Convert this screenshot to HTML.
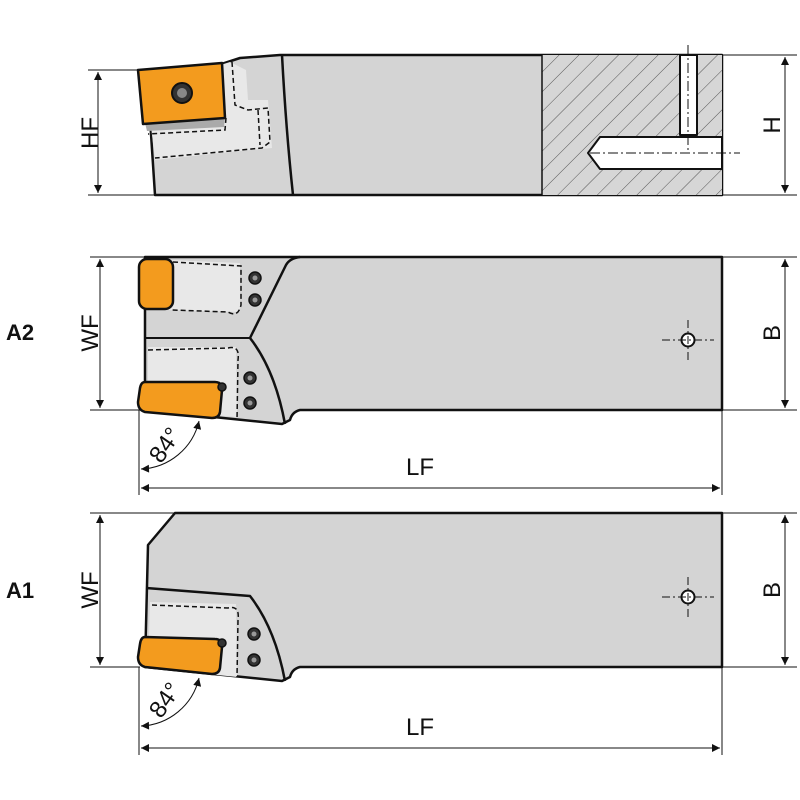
<!DOCTYPE html>
<html><head><meta charset="utf-8"><style>
html,body{margin:0;padding:0;background:#fff}
svg{display:block}
text{font-family:"Liberation Sans",sans-serif;fill:#111}
</style></head><body>
<svg width="800" height="800" viewBox="0 0 800 800" xmlns="http://www.w3.org/2000/svg">
<defs>
<pattern id="hatch" patternUnits="userSpaceOnUse" width="14" height="14" patternTransform="rotate(-45)">
<rect width="14" height="14" fill="#d6d6d6"/><line x1="0" y1="0" x2="14" y2="0" stroke="#555" stroke-width="1"/>
</pattern>
<marker id="ar" viewBox="0 0 10 10" refX="10" refY="5" markerWidth="12" markerHeight="8" orient="auto-start-reverse" markerUnits="userSpaceOnUse"><path d="M0,0 L10,5 L0,10z" fill="#111"/></marker>
</defs>
<g stroke="#111" stroke-width="1" fill="none">
<!-- TOP VIEW dims -->
<line x1="88" y1="70" x2="140" y2="70"/><line x1="88" y1="195" x2="155" y2="195"/>
<line x1="98" y1="72" x2="98" y2="193" marker-start="url(#ar)" marker-end="url(#ar)"/>
<line x1="722" y1="55" x2="797" y2="55"/><line x1="722" y1="195" x2="797" y2="195"/>
<line x1="785" y1="57" x2="785" y2="193" marker-start="url(#ar)" marker-end="url(#ar)"/>
<!-- A2 dims -->
<line x1="90" y1="257" x2="145" y2="257"/><line x1="90" y1="410" x2="140" y2="410"/>
<line x1="100" y1="259" x2="100" y2="408" marker-start="url(#ar)" marker-end="url(#ar)"/>
<line x1="722" y1="257" x2="797" y2="257"/><line x1="722" y1="410" x2="797" y2="410"/>
<line x1="785" y1="259" x2="785" y2="408" marker-start="url(#ar)" marker-end="url(#ar)"/>
<line x1="139" y1="410" x2="139" y2="495"/><line x1="722" y1="410" x2="722" y2="495"/>
<line x1="141" y1="488" x2="720" y2="488" marker-start="url(#ar)" marker-end="url(#ar)"/>
<path d="M141,469 A62,62 0 0 0 199,421" marker-start="url(#ar)" marker-end="url(#ar)"/>
<!-- A1 dims -->
<line x1="90" y1="513" x2="175" y2="513"/><line x1="90" y1="667" x2="140" y2="667"/>
<line x1="100" y1="515" x2="100" y2="665" marker-start="url(#ar)" marker-end="url(#ar)"/>
<line x1="722" y1="513" x2="797" y2="513"/><line x1="722" y1="667" x2="797" y2="667"/>
<line x1="785" y1="515" x2="785" y2="665" marker-start="url(#ar)" marker-end="url(#ar)"/>
<line x1="139" y1="667" x2="139" y2="755"/><line x1="722" y1="667" x2="722" y2="755"/>
<line x1="141" y1="748" x2="720" y2="748" marker-start="url(#ar)" marker-end="url(#ar)"/>
<path d="M141,726 A62,62 0 0 0 199,678" marker-start="url(#ar)" marker-end="url(#ar)"/>
</g>

<!-- TOP VIEW -->
<g stroke="#111" stroke-width="2.5" stroke-linejoin="round">
<path d="M148,88 L240,58 L280,55 L722,55 L722,195 L155,195 Z" fill="#d4d4d4"/>
<path d="M148,88 L150,118 L155,160 L230,152 L272,148 L268,100 L248,100 L246,70 L230,62 Z" fill="#e8e8e8" stroke="none"/>
<rect x="542" y="55" width="180" height="140" fill="url(#hatch)" stroke="none"/>
<line x1="542" y1="55" x2="542" y2="195" stroke-width="1.5"/>
<path d="M282,55 Q286,130 293,195" fill="none"/>
<path d="M600,137 L722,137 L722,169 L600,169 L588,153 Z" fill="#fff" stroke-width="2"/>
<rect x="680" y="55" width="17" height="80" fill="#fff" stroke-width="2"/>
<path d="M145,123 L225,117 L224,127 L147,131 Z" fill="#aaa" stroke="none"/>
<path d="M138,70 L222,63 L225,118 L143,124 Z" fill="#f39b1e"/>
<circle cx="182" cy="93" r="10" fill="#333" stroke="#111" stroke-width="2"/>
<circle cx="182" cy="93" r="5" fill="#888" stroke="none"/>
</g>
<g stroke="#111" stroke-width="1.5" stroke-dasharray="5,3" fill="none">
<path d="M232,62 L235,105 L248,110 L268,108 L270,142 L262,148 L155,158"/>
<path d="M226,118 L225,130 L148,134"/>
<path d="M258,110 L260,145"/>
</g>
<g stroke="#111" stroke-width="1" stroke-dasharray="10,3,2,3" fill="none">
<line x1="590" y1="153" x2="740" y2="153"/><line x1="688" y1="45" x2="688" y2="150"/>
</g>

<!-- A2 VIEW -->
<g stroke="#111" stroke-width="2.5" stroke-linejoin="round">
<path d="M145,257 L290,257 L300,257 L722,257 L722,410 L300,410 Q292,412 290,420 L282,424 L145,410 Z" fill="#d4d4d4"/>
<path d="M300,257 Q290,258 286,265 L250,338 Q275,370 285,424" fill="none"/>
<path d="M145,338 L250,338" fill="none" stroke-width="2"/>
<path d="M170,260 L240,263 L240,312 L168,310 Z" fill="#e8e8e8" stroke="none"/>
<path d="M148,347 L236,347 L237,417 L148,410 Z" fill="#e8e8e8" stroke="none"/>
<rect x="139" y="259" width="34" height="50" rx="8" fill="#f39b1e"/>
<path d="M145,382 L215,382 Q222,382 222,390 L220,412 Q219,418 212,418 L145,412 Q138,410 138,402 L140,388 Q141,382 145,382 Z" fill="#f39b1e"/>
</g>
<g stroke="#111" stroke-width="1.5" stroke-dasharray="5,3" fill="none">
<path d="M173,262 L241,266 L241,305 Q238,318 228,312 L172,310"/>
<path d="M148,350 L228,348 Q240,345 238,360 L237,420"/>
</g>
<g fill="#333" stroke="#111" stroke-width="1.5">
<circle cx="255" cy="278" r="6"/><circle cx="255" cy="300" r="6"/>
<circle cx="250" cy="378" r="6"/><circle cx="250" cy="403" r="6"/>
<circle cx="222" cy="387" r="4"/>
</g>
<g fill="#999"><circle cx="255" cy="278" r="2.5"/><circle cx="255" cy="300" r="2.5"/><circle cx="250" cy="378" r="2.5"/><circle cx="250" cy="403" r="2.5"/></g>
<circle cx="688" cy="340" r="6.5" fill="#fff" stroke="#111" stroke-width="2"/>
<g stroke="#111" stroke-width="1" stroke-dasharray="8,3,2,3"><line x1="662" y1="340" x2="714" y2="340"/><line x1="688" y1="320" x2="688" y2="360"/></g>

<!-- A1 VIEW -->
<g stroke="#111" stroke-width="2.5" stroke-linejoin="round">
<path d="M175,513 L722,513 L722,667 L300,667 Q292,669 290,677 L282,681 L145,667 L148,545 Z" fill="#d4d4d4"/>
<path d="M146,588 L250,596 Q275,628 285,681" fill="none"/>
<path d="M150,602 L236,604 L237,677 L148,668 Z" fill="#e8e8e8" stroke="none"/>
<path d="M145,637 L215,639 Q222,639 222,647 L220,668 Q219,674 212,674 L145,667 Q138,665 138,657 L140,644 Q141,637 145,637 Z" fill="#f39b1e"/>
</g>
<g stroke="#111" stroke-width="1.5" stroke-dasharray="5,3" fill="none">
<path d="M152,605 L228,608 Q240,605 238,620 L237,677"/>
</g>
<g fill="#333" stroke="#111" stroke-width="1.5">
<circle cx="254" cy="634" r="6"/><circle cx="254" cy="660" r="6"/><circle cx="222" cy="643" r="4"/>
</g>
<g fill="#999"><circle cx="254" cy="634" r="2.5"/><circle cx="254" cy="660" r="2.5"/></g>
<circle cx="688" cy="597" r="6.5" fill="#fff" stroke="#111" stroke-width="2"/>
<g stroke="#111" stroke-width="1" stroke-dasharray="8,3,2,3"><line x1="662" y1="597" x2="714" y2="597"/><line x1="688" y1="577" x2="688" y2="617"/></g>

<!-- Labels -->
<g font-size="24">
<text x="90" y="133" text-anchor="middle" transform="rotate(-90 90 133)" dy="8">HF</text>
<text x="772" y="125" text-anchor="middle" transform="rotate(-90 772 125)" dy="8">H</text>
<text x="90" y="333" text-anchor="middle" transform="rotate(-90 90 333)" dy="8">WF</text>
<text x="772" y="333" text-anchor="middle" transform="rotate(-90 772 333)" dy="8">B</text>
<text x="90" y="590" text-anchor="middle" transform="rotate(-90 90 590)" dy="8">WF</text>
<text x="772" y="590" text-anchor="middle" transform="rotate(-90 772 590)" dy="8">B</text>
<text x="420" y="475" text-anchor="middle">LF</text>
<text x="420" y="735" text-anchor="middle">LF</text>
<text x="165" y="445" text-anchor="middle" transform="rotate(-55 165 445)" dy="8">84°</text>
<text x="165" y="700" text-anchor="middle" transform="rotate(-55 165 700)" dy="8">84°</text>
</g>
<g font-size="22" font-weight="bold">
<text x="20" y="340" text-anchor="middle">A2</text>
<text x="20" y="598" text-anchor="middle">A1</text>
</g>
</svg>
</body></html>
